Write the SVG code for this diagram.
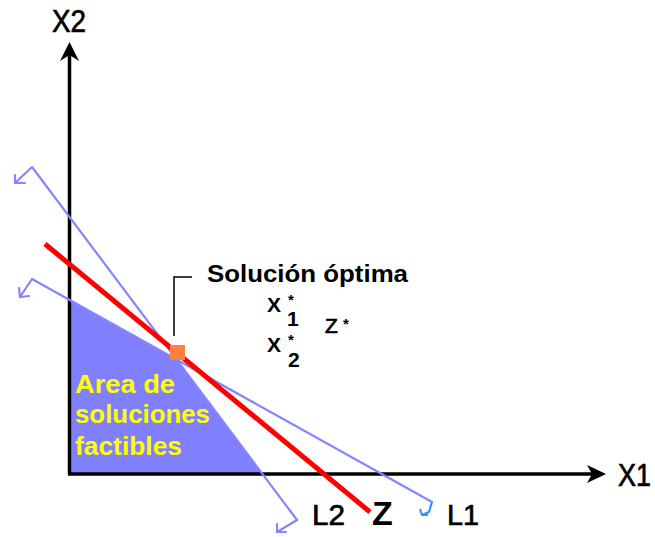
<svg xmlns="http://www.w3.org/2000/svg" width="655" height="537" viewBox="0 0 655 537">
<style>
.t{font-family:"Liberation Sans",Arial,sans-serif;fill:#000}
.b{font-weight:bold}
.s{stroke:#000;stroke-width:0.7}
.y{fill:#ffff00;font-weight:bold;font-family:"Liberation Sans",Arial,sans-serif;font-size:25px}
.lv{fill:none;stroke:#8585ff;stroke-width:2.2;stroke-linejoin:round;stroke-linecap:round}
.ax{fill:none;stroke:#000;stroke-width:3.5}
</style>
<rect width="655" height="537" fill="#fff"/>
<g id="region">
<polygon points="70,300 176.5,359 261,473 70,473" fill="#8080ff"/>
<text class="y" x="75" y="393" textLength="100" lengthAdjust="spacingAndGlyphs">Area de</text>
<text class="y" x="75" y="423" textLength="135" lengthAdjust="spacingAndGlyphs">soluciones</text>
<text class="y" x="75" y="455" textLength="107" lengthAdjust="spacingAndGlyphs">factibles</text>
</g>
<g id="axes">
<line class="ax" x1="69.5" y1="55" x2="69.5" y2="474"/>
<line class="ax" x1="68" y1="474" x2="592" y2="474"/>
<polygon points="69.5,42 79,61 69.5,55 60,61" fill="#000"/>
<polygon points="606,474 587,465 592,474 587,483" fill="#000"/>
<text class="t s" x="52" y="32" font-size="31" textLength="34" lengthAdjust="spacingAndGlyphs">X2</text>
<text class="t s" x="618" y="486" font-size="31" textLength="33" lengthAdjust="spacingAndGlyphs">X1</text>
</g>
<g id="connectors">
<g id="L2line">
<polyline class="lv" points="15,183 32,167 297,520 277,532"/>
<polyline class="lv" points="15,175 15,183 25,183"/>
<polyline class="lv" points="277,524 277,532 286,532"/>
</g>
<g id="L1line">
<polyline class="lv" points="20,297 32,279 432,502"/>
<polyline class="lv" points="19,288 20,297 29,296"/>
<polyline fill="none" stroke="#2f95ff" stroke-width="2.2" stroke-linejoin="round" points="432,502 429,512 422,515"/>
<polyline fill="none" stroke="#2f95ff" stroke-width="2.2" stroke-linejoin="round" points="420,509 422,515 428,515"/>
</g>
<line id="Zline" x1="45" y1="244" x2="370" y2="512" stroke="#ff0000" stroke-width="5"/>
<path id="callout" d="M174,336 V277 H192" fill="none" stroke="#000" stroke-width="1.5"/>
</g>
<g id="optimum">
<rect x="170" y="345" width="15" height="15" fill="#ff8040"/>
<text class="t b" x="207" y="282" font-size="24" textLength="201" lengthAdjust="spacingAndGlyphs">Solución óptima</text>
<text class="t b" x="267" y="312" font-size="21">X</text>
<text class="t b" x="288" y="305" font-size="15">*</text>
<text class="t b" x="287" y="326" font-size="21">1</text>
<text class="t s" x="325" y="333" font-size="21" stroke-width="0.5">Z</text>
<text class="t b" x="343" y="329" font-size="15">*</text>
<text class="t b" x="267" y="352" font-size="21">X</text>
<text class="t b" x="288" y="345" font-size="15">*</text>
<text class="t b" x="288" y="367" font-size="21">2</text>
</g>
<g id="labels">
<text class="t s" x="312" y="525" font-size="30" textLength="33" lengthAdjust="spacingAndGlyphs">L2</text>
<text class="t b" x="372" y="525" font-size="34">Z</text>
<text class="t s" x="447" y="525" font-size="30" textLength="32" lengthAdjust="spacingAndGlyphs">L1</text>
</g>
</svg>
